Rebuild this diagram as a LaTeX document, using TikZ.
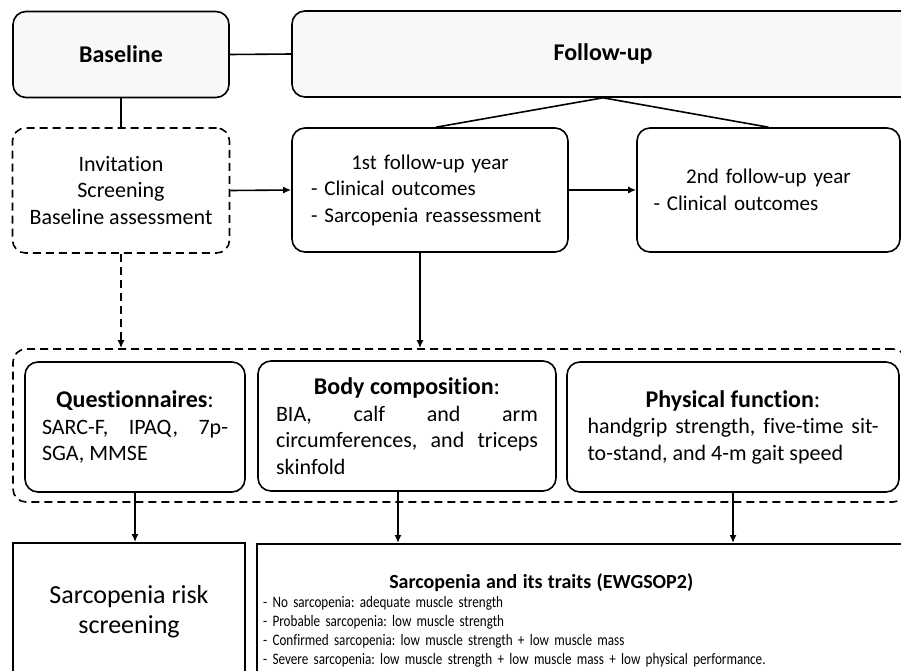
\documentclass[tikz,border=0pt]{standalone}
\usepackage{fontspec}
\setmainfont{Carlito}[Ligatures=CommonOff]
\newfontfamily\narrowfont[FakeStretch=0.82, WordSpace=0.6, Ligatures=CommonOff]{Carlito}
\usetikzlibrary{arrows.meta}
\definecolor{boxgray}{HTML}{F8F8F8}
\frenchspacing
\hyphenpenalty=10000

\begin{document}
\begin{tikzpicture}[x=1pt, y=-1pt,
    every node/.style={font=\fontsize{22}{26.5}\selectfont},
    box/.style={draw, line width=1.6pt, rounded corners=13pt, inner sep=0pt},
    dbox/.style={box, dash pattern=on 8pt off 5pt},
    plain/.style={draw, line width=1.8pt, inner sep=0pt},
    link/.style={line width=1.6pt},
    arrow/.style={link, -{Latex[length=8pt,width=7pt]}},
    year/.style={box, minimum height=124pt, align=left, font=\fontsize{21}{26.5}\selectfont}
  ]
  \useasboundingbox (0,0) rectangle (901,670);
  \clip (0,0) rectangle (901,670);

  % study timeline
  \node (base) [box, fill=boxgray, minimum width=216pt, minimum height=86pt, font=\fontsize{24}{28}\selectfont\bfseries] at (121,54.5) {Baseline};
  \node (follow) [box, fill=boxgray, minimum width=622pt, minimum height=86pt, font=\fontsize{24}{28}\selectfont\bfseries] at (603,54) {Follow-up};
  \node (inv) [dbox, minimum width=217pt, minimum height=125pt, align=center] at (121,190.5) {Invitation\\Screening\\Baseline assessment};
  \node (fy1) [year, minimum width=276pt, text width=238pt] at (430,190)
    {{\centering 1st follow-up year\par}- Clinical outcomes\\- Sarcopenia reassessment};
  \node (fy2) [year, minimum width=263pt, text width=230pt] at (768.5,190)
    {{\centering 2nd follow-up year\par}- Clinical outcomes};

  % measurements
  \node (measure) [dbox, minimum width=893pt, minimum height=153pt] at (459.5,425.5) {};
  \node (qst) [box, minimum width=220pt, minimum height=130pt, text width=186pt, align=justify] at (135,427)
    {{\centering\fontsize{24}{26}\selectfont\textbf{Questionnaires}:\par}SARC-F, IPAQ, 7p-\linebreak SGA, MMSE};
  \node (bc) [box, minimum width=298pt, minimum height=130pt, text width=262pt, align=justify] at (407,426)
    {{\centering\fontsize{24}{26}\selectfont\textbf{Body composition}:\par}BIA, calf and arm\linebreak circumferences, and triceps\linebreak skinfold};
  \node (pf) [box, minimum width=332pt, minimum height=130pt, text width=291pt, align=justify] at (733,427)
    {{\centering\fontsize{24}{26}\selectfont\textbf{Physical function}:\par}handgrip strength, five-time sit-\linebreak to-stand, and 4-m gait speed};

  % outcomes
  \node (risk) [plain, minimum width=232pt, minimum height=137pt, align=center, font=\fontsize{26}{30}\selectfont] at (129,611.5) {Sarcopenia risk\\screening};
  \node (traits) [plain, minimum width=650pt, minimum height=170pt, anchor=north west] at (256,543) {};
  \node (traitstext) [anchor=north west, text width=556pt, align=left, inner sep=0pt, font=\narrowfont\fontsize{16}{19}\selectfont] at (263,573)
    {{\centering\fontsize{20}{22}\selectfont\rmfamily\bfseries Sarcopenia and its traits (EWGSOP2)\par}%
     - No sarcopenia: adequate muscle strength\\
     - Probable sarcopenia: low muscle strength\\
     - Confirmed sarcopenia: low muscle strength + low muscle mass\\
     - Severe sarcopenia: low muscle strength + low muscle mass + low physical performance.};

  % connectors
  \draw[link] (base.east) -- (follow.west);
  \draw[link] (base.south) -- (inv.north);
  \draw[link] (follow.south) -- ([xshift=6pt]fy1.north);
  \draw[link] (follow.south) -- (fy2.north);
  \draw[arrow] (inv.east) -- (fy1.west);
  \draw[arrow] (fy1.east) -- (fy2.west);
  \draw[arrow, dash pattern=on 8pt off 5pt] (inv.south) -- (inv.south |- measure.north);
  \draw[arrow] ([xshift=-10pt]fy1.south) -- ([xshift=-10pt]fy1.south |- measure.north);
  \draw[arrow] (qst.south) -- (qst.south |- risk.north);
  \draw[arrow] ([xshift=-9pt]bc.south) -- ([xshift=-9pt]bc.south |- traits.north);
  \draw[arrow] (pf.south) -- (pf.south |- traits.north);
\end{tikzpicture}
\end{document}
